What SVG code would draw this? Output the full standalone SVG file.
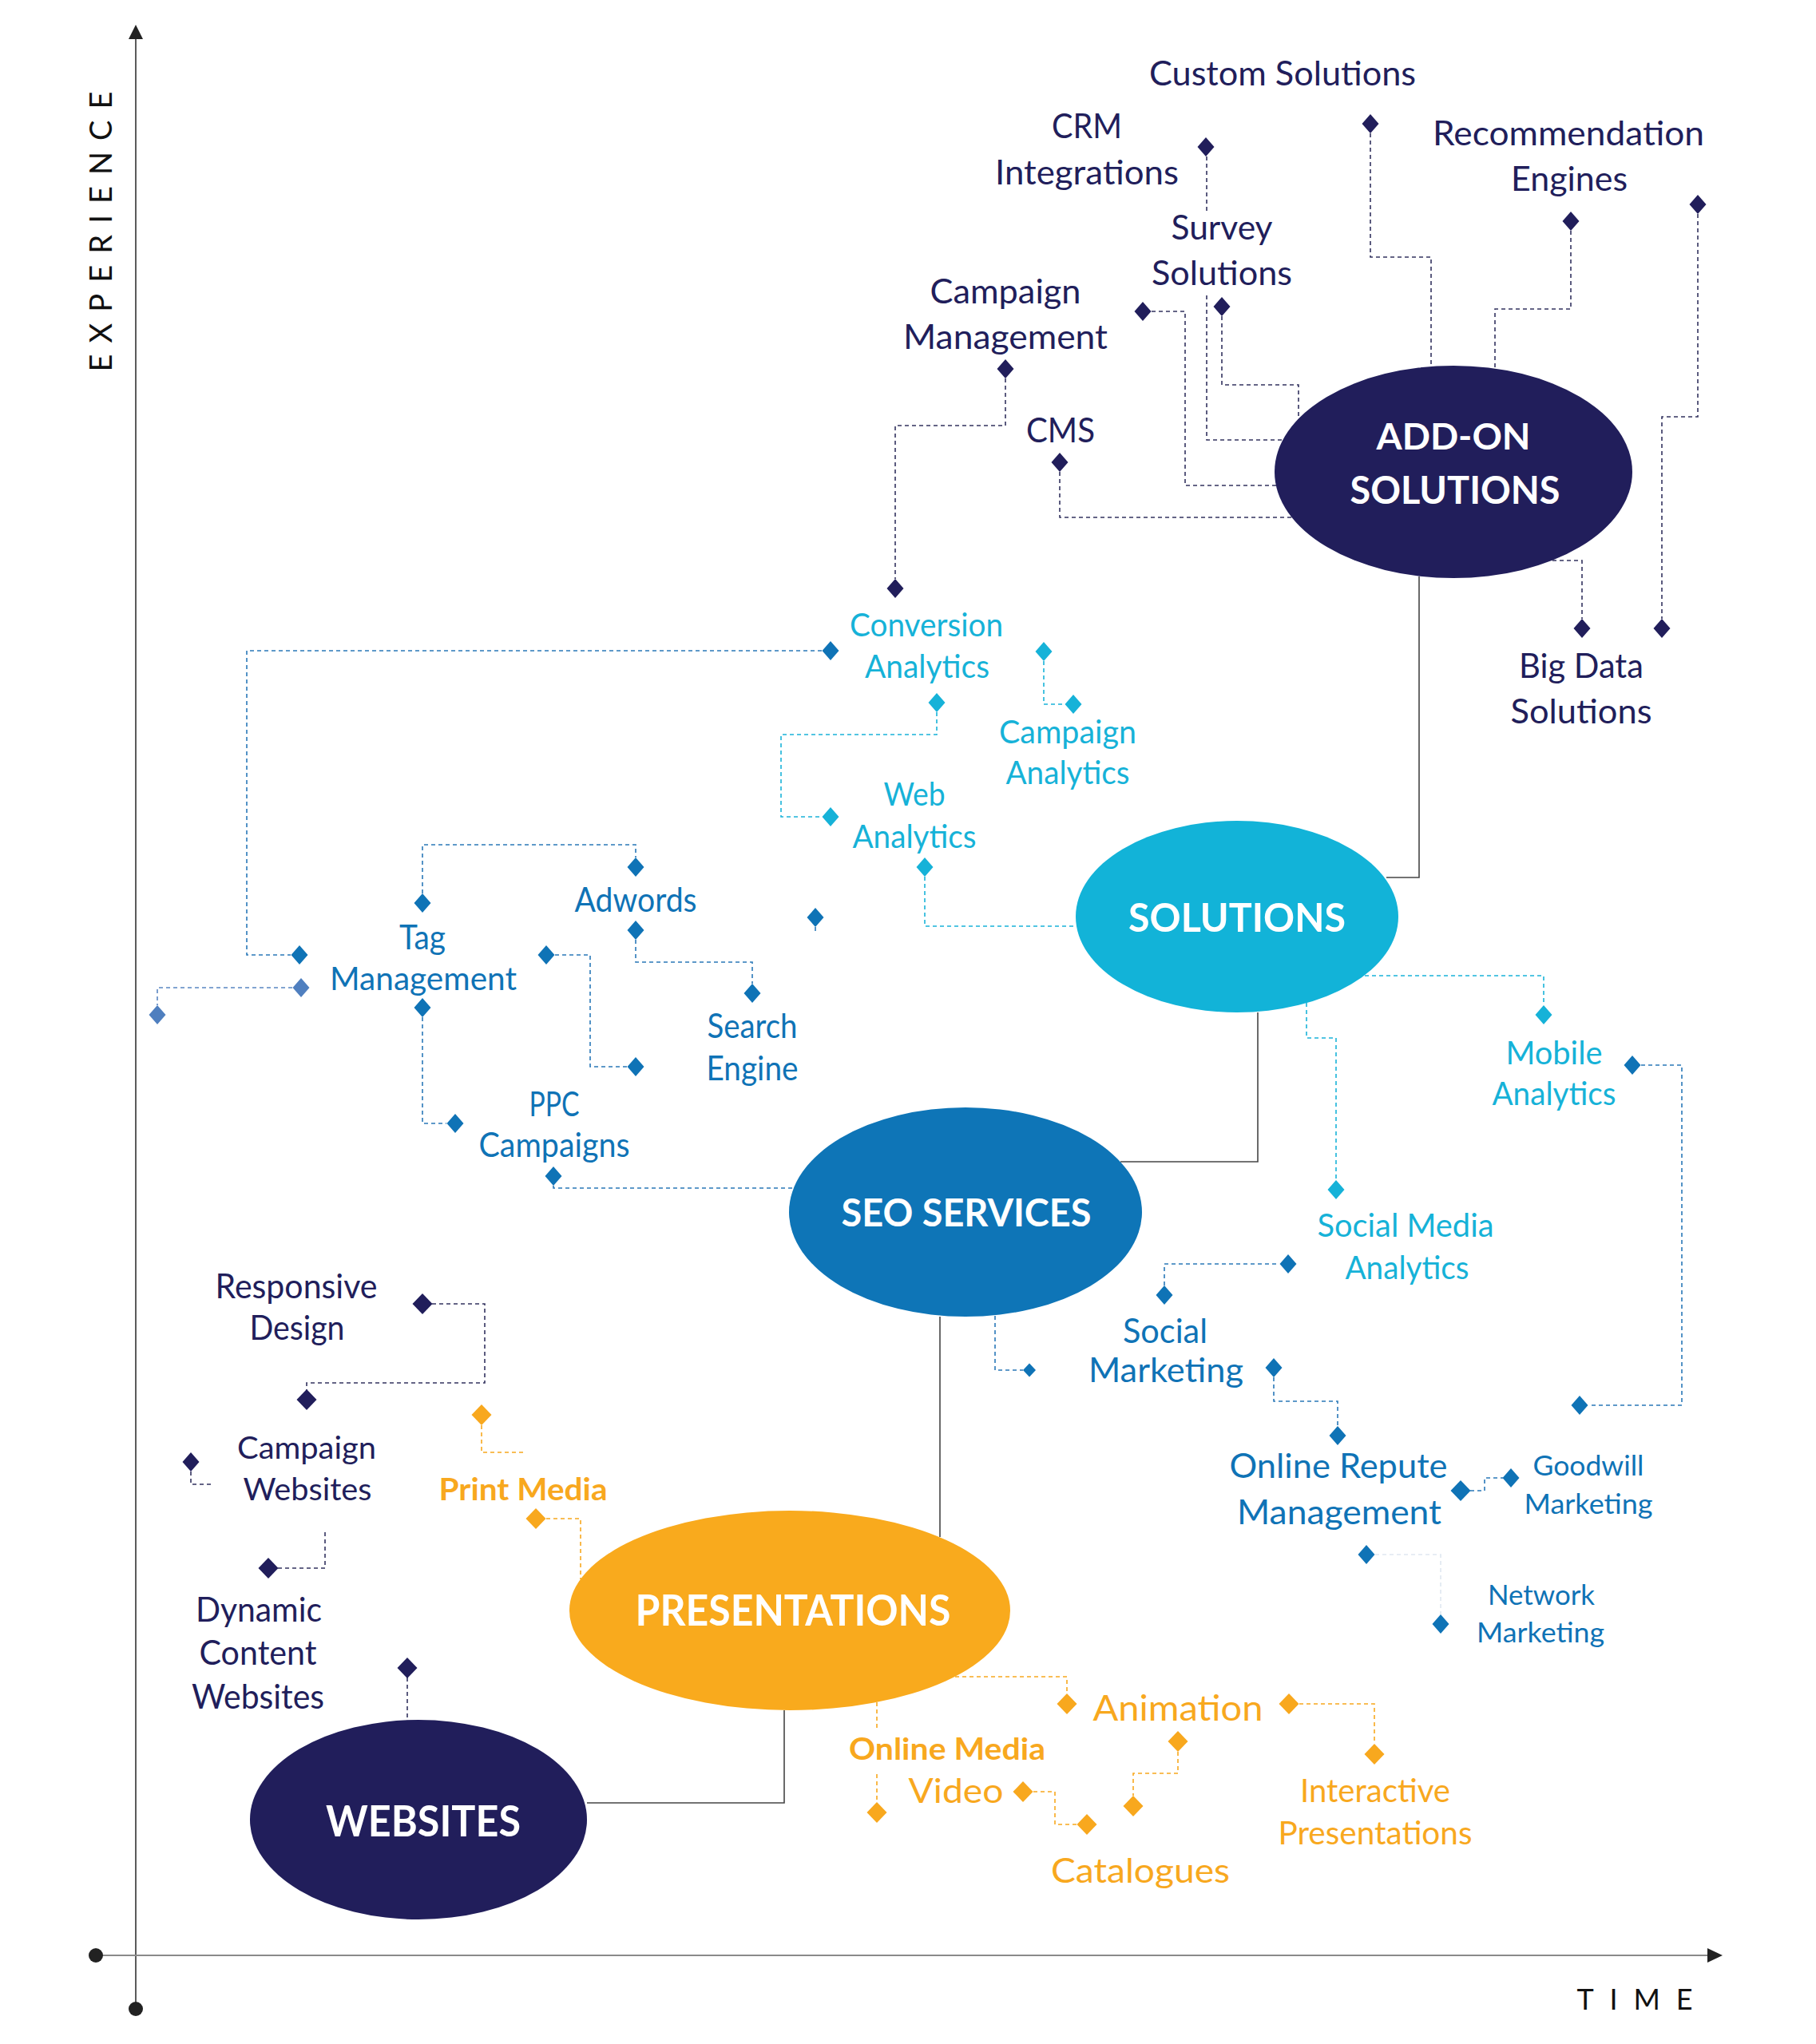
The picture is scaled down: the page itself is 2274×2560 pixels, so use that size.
<svg xmlns="http://www.w3.org/2000/svg" xmlns:xlink="http://www.w3.org/1999/xlink" width="2274" height="2560" viewBox="0 0 2274 2560">
<style>
text{font-family:Lato,"Open Sans","Liberation Sans",sans-serif;text-anchor:middle}
.l{font-size:42px}
.m{font-size:40px}
.s{font-size:35px}
.navy{fill:#211e5b}
.cyan{fill:#16b2d8}
.blue{fill:#0f73b6}
.gb{fill:#4f7fbf}
.org{fill:#f8a81e}
.w{fill:#ffffff;font-weight:bold}
.b{font-weight:bold}
.ax{fill:#111;font-size:38px}
.cn{fill:none;stroke-width:1.6;stroke-dasharray:5 4}
.cnavy{stroke:#33335f}
.ccyan{stroke:#1ab3d9}
.cblue{stroke:#2a78b8}
.cgb{stroke:#5a86c2}
.corg{stroke:#f8a81e}
.cfaint{stroke:#dfe8f1}
.solid{fill:none;stroke:#454545;stroke-width:1.6}
</style>
<defs>
<path id="dm" d="M0,-12 L10.5,0 L0,12 L-10.5,0Z"/>
<path id="dl" d="M0,-13 L12.5,0 L0,13 L-12.5,0Z"/>
<path id="ds" d="M0,-8.5 L8,0 L0,8.5 L-8,0Z"/>
</defs>
<rect width="2274" height="2560" fill="#ffffff"/>

<g id="axes">
<line x1="170" y1="47" x2="170" y2="2516" stroke="#333" stroke-width="1.6"/>
<polygon points="170,31 179,49 161,49" fill="#222"/>
<line x1="120" y1="2449" x2="2140" y2="2449" stroke="#8a8a8a" stroke-width="2"/>
<polygon points="2157,2449 2138,2440 2138,2458" fill="#222"/>
<circle cx="120" cy="2449" r="9" fill="#222"/>
<circle cx="170" cy="2516" r="9" fill="#222"/>
<text class="ax" transform="translate(140,290) rotate(-90)" textLength="351">EXPERIENCE</text>
<text class="ax" x="2047" y="2517" textLength="145" style="font-size:36px">TIME</text>
</g>

<g id="connectors">
<path class="cn cnavy" d="M1511,196 V266 M1511,370 V551 H1607"/>
<path class="cn cnavy" d="M1530,396 V482 H1626 V526"/>
<path class="cn cnavy" d="M1442,390 H1484 V608 H1598"/>
<path class="cn cnavy" d="M1327,591 V648 H1618"/>
<path class="cn cnavy" d="M1716,167 V322 H1792 V459"/>
<path class="cn cnavy" d="M1967,289 V387 H1872 V462"/>
<path class="cn cnavy" d="M2126,268 V522 H2081 V775"/>
<path class="cn cnavy" d="M1944,702 H1981 V775"/>
<path class="cn cnavy" d="M1259,474 V533 H1121 V725"/>
<path class="cn cnavy" d="M541,1633 H607 V1732 H384 V1741"/>
<path class="cn cnavy" d="M239,1843 V1859 H268"/>
<path class="cn cnavy" d="M348,1964 H407 V1915"/>
<path class="cn cnavy" d="M510,2101 V2154"/>

<path class="cn ccyan" d="M1307,828 V882 H1333"/>
<path class="cn ccyan" d="M1173,892 V920 H978 V1023 H1029"/>
<path class="cn ccyan" d="M1158,1098 V1160 H1348"/>
<path class="cn ccyan" d="M1709,1222 H1933 V1259"/>
<path class="cn ccyan" d="M1636,1256 V1300 H1673 V1478"/>

<path class="cn cblue" d="M1029,815 H309 V1196 H364"/>
<path class="cn cblue" d="M529,1119 V1058 H796 V1074"/>
<path class="cn cblue" d="M796,1177 V1205 H942 V1232"/>
<path class="cn cblue" d="M695,1196 H739 V1336 H785"/>
<path class="cn cblue" d="M529,1274 V1407 H559"/>
<path class="cn cblue" d="M693,1485 V1488 H994"/>
<path class="cn cblue" d="M1021,1161 V1169"/>
<path class="cn cblue" d="M1246,1648 V1716 H1281"/>
<path class="cn cblue" d="M1458,1610 V1583 H1602"/>
<path class="cn cblue" d="M1595,1725 V1755 H1675 V1786"/>
<path class="cn cblue" d="M1841,1867 H1859 V1851 H1882"/>
<path class="cn cblue" d="M2055,1334 H2106 V1760 H1989"/>
<path class="cn cfaint" d="M1722,1947 H1804 V2022"/>
<path class="cn cgb" d="M366,1237 H197 V1259"/>

<path class="cn corg" d="M603,1785 V1819 H655"/>
<path class="cn corg" d="M684,1902 H727 V1978"/>
<path class="cn corg" d="M1196,2100 H1336 V2121"/>
<path class="cn corg" d="M1475,2194 V2221 H1419 V2249"/>
<path class="cn corg" d="M1098,2132 V2166 M1098,2222 V2257"/>
<path class="cn corg" d="M1294,2244 H1321 V2285 H1348"/>
<path class="cn corg" d="M1627,2134 H1721 V2184"/>

<path class="solid" d="M735,2258 H982 V2142"/>
<path class="solid" d="M1177,1925 V1649"/>
<path class="solid" d="M1403,1455 H1575 V1268"/>
<path class="solid" d="M1736,1099 H1777 V722"/>
</g>

<g id="add-on-solutions">
<ellipse cx="1820" cy="591" rx="224" ry="133" fill="#211e5b"/>
<text class="w" x="1820" y="563" style="font-size:46px" textLength="193" lengthAdjust="spacingAndGlyphs">ADD-ON</text>
<text class="w" x="1822" y="631" style="font-size:48px" textLength="263" lengthAdjust="spacingAndGlyphs">SOLUTIONS</text>
</g>
<g id="solutions">
<ellipse cx="1549" cy="1148" rx="202" ry="120" fill="#12b3d8"/>
<text class="w" x="1549" y="1167" style="font-size:49px" textLength="272" lengthAdjust="spacingAndGlyphs">SOLUTIONS</text>
</g>
<g id="seo-services">
<ellipse cx="1209" cy="1518" rx="221" ry="131" fill="#0e75b7"/>
<text class="w" x="1210" y="1536" style="font-size:47px" textLength="313" lengthAdjust="spacingAndGlyphs">SEO SERVICES</text>
</g>
<g id="presentations">
<ellipse cx="989" cy="2017" rx="276" ry="125" fill="#f9aa1d"/>
<text class="w" x="993" y="2036" style="font-size:54px" textLength="395" lengthAdjust="spacingAndGlyphs">PRESENTATIONS</text>
</g>
<g id="websites">
<ellipse cx="524" cy="2279" rx="211" ry="125" fill="#211e5b"/>
<text class="w" x="530" y="2300" style="font-size:53px" textLength="244" lengthAdjust="spacingAndGlyphs">WEBSITES</text>
</g>

<g id="custom-solutions">
<text class="l navy" x="1606" y="107" textLength="334" lengthAdjust="spacingAndGlyphs">Custom Solutions</text>
<use href="#dm" x="1716" y="155" class="navy"/>
</g>
<g id="crm-integrations">
<text class="l navy" x="1361" y="173" textLength="88" lengthAdjust="spacingAndGlyphs">CRM</text>
<text class="l navy" x="1361" y="231" textLength="230" lengthAdjust="spacingAndGlyphs">Integrations</text>
<use href="#dm" x="1510" y="184" class="navy"/>
</g>
<g id="survey-solutions">
<text class="l navy" x="1530" y="300" textLength="127" lengthAdjust="spacingAndGlyphs">Survey</text>
<text class="l navy" x="1530" y="357" textLength="176" lengthAdjust="spacingAndGlyphs">Solutions</text>
<use href="#dm" x="1530" y="384" class="navy"/>
</g>
<g id="campaign-management">
<text class="l navy" x="1259" y="380" textLength="189" lengthAdjust="spacingAndGlyphs">Campaign</text>
<text class="l navy" x="1259" y="437" textLength="256" lengthAdjust="spacingAndGlyphs">Management</text>
<use href="#dm" x="1431" y="390" class="navy"/>
<use href="#dm" x="1259" y="462" class="navy"/>
</g>
<g id="cms">
<text class="l navy" x="1328" y="554" textLength="86" lengthAdjust="spacingAndGlyphs">CMS</text>
<use href="#dm" x="1327" y="579" class="navy"/>
</g>
<g id="recommendation-engines">
<text class="l navy" x="1964" y="182" textLength="340" lengthAdjust="spacingAndGlyphs">Recommendation</text>
<text class="l navy" x="1965" y="239" textLength="146" lengthAdjust="spacingAndGlyphs">Engines</text>
<use href="#dm" x="1967" y="277" class="navy"/>
<use href="#dm" x="2126" y="256" class="navy"/>
</g>
<g id="big-data-solutions">
<text class="l navy" x="1980" y="849" textLength="156" lengthAdjust="spacingAndGlyphs">Big Data</text>
<text class="l navy" x="1980" y="906" textLength="177" lengthAdjust="spacingAndGlyphs">Solutions</text>
<use href="#dm" x="1981" y="787" class="navy"/>
<use href="#dm" x="2081" y="787" class="navy"/>
</g>

<g id="conversion-analytics">
<use href="#dm" x="1121" y="737" class="navy"/>
<text class="m cyan" x="1160" y="797" textLength="192" lengthAdjust="spacingAndGlyphs">Conversion</text>
<text class="m cyan" x="1161" y="849" textLength="156" lengthAdjust="spacingAndGlyphs">Analytics</text>
<use href="#dm" x="1040" y="815" class="blue"/>
<use href="#dm" x="1307" y="816" class="cyan"/>
<use href="#dm" x="1173" y="880" class="cyan"/>
</g>
<g id="campaign-analytics">
<use href="#dm" x="1344" y="882" class="cyan"/>
<text class="m cyan" x="1337" y="931" textLength="172" lengthAdjust="spacingAndGlyphs">Campaign</text>
<text class="m cyan" x="1337" y="982" textLength="155" lengthAdjust="spacingAndGlyphs">Analytics</text>
</g>
<g id="web-analytics">
<use href="#dm" x="1040" y="1023" class="cyan"/>
<text class="m cyan" x="1145" y="1009" textLength="77" lengthAdjust="spacingAndGlyphs">Web</text>
<text class="m cyan" x="1145" y="1062" textLength="155" lengthAdjust="spacingAndGlyphs">Analytics</text>
<use href="#dm" x="1158" y="1086" class="cyan"/>
</g>
<g id="mobile-analytics">
<use href="#dm" x="1933" y="1271" class="cyan"/>
<text class="m cyan" x="1946" y="1333" textLength="121" lengthAdjust="spacingAndGlyphs">Mobile</text>
<text class="m cyan" x="1946" y="1384" textLength="155" lengthAdjust="spacingAndGlyphs">Analytics</text>
<use href="#dm" x="2044" y="1334" class="blue"/>
</g>
<g id="social-media-analytics">
<use href="#dm" x="1673" y="1490" class="cyan"/>
<text class="m cyan" x="1760" y="1549" textLength="221" lengthAdjust="spacingAndGlyphs">Social Media</text>
<text class="m cyan" x="1762" y="1602" textLength="155" lengthAdjust="spacingAndGlyphs">Analytics</text>
<use href="#dm" x="1613" y="1583" class="blue"/>
</g>

<g id="tag-management">
<use href="#dm" x="529" y="1131" class="blue"/>
<text class="l blue" x="529" y="1189" textLength="58" lengthAdjust="spacingAndGlyphs">Tag</text>
<text class="m blue" x="530" y="1240" textLength="234" lengthAdjust="spacingAndGlyphs">Management</text>
<use href="#dm" x="375" y="1196" class="blue"/>
<use href="#dm" x="377" y="1237" class="gb"/>
<use href="#dm" x="197" y="1271" class="gb"/>
<use href="#dm" x="684" y="1196" class="blue"/>
<use href="#dm" x="529" y="1262" class="blue"/>
</g>
<g id="adwords">
<use href="#dm" x="796" y="1086" class="blue"/>
<text class="l blue" x="796" y="1142" textLength="153" lengthAdjust="spacingAndGlyphs">Adwords</text>
<use href="#dm" x="796" y="1165" class="blue"/>
<use href="#dm" x="1021" y="1149" class="blue"/>
</g>
<g id="search-engine">
<use href="#dm" x="942" y="1244" class="blue"/>
<text class="l blue" x="942" y="1300" textLength="113" lengthAdjust="spacingAndGlyphs">Search</text>
<text class="l blue" x="942" y="1353" textLength="115" lengthAdjust="spacingAndGlyphs">Engine</text>
<use href="#dm" x="796" y="1336" class="blue"/>
</g>
<g id="ppc-campaigns">
<use href="#dm" x="570" y="1407" class="blue"/>
<text class="l blue" x="694" y="1398" textLength="63" lengthAdjust="spacingAndGlyphs">PPC</text>
<text class="l blue" x="694" y="1449" textLength="189" lengthAdjust="spacingAndGlyphs">Campaigns</text>
<use href="#dm" x="693" y="1473" class="blue"/>
</g>
<g id="social-marketing">
<use href="#ds" x="1289" y="1716" class="blue"/>
<use href="#dm" x="1458" y="1622" class="blue"/>
<text class="l blue" x="1459" y="1682" textLength="106" lengthAdjust="spacingAndGlyphs">Social</text>
<text class="l blue" x="1460" y="1731" textLength="194" lengthAdjust="spacingAndGlyphs">Marketing</text>
<use href="#dm" x="1595" y="1713" class="blue"/>
</g>
<g id="online-repute-management">
<use href="#dm" x="1675" y="1798" class="blue"/>
<text class="l blue" x="1676" y="1851" textLength="273" lengthAdjust="spacingAndGlyphs">Online Repute</text>
<text class="l blue" x="1677" y="1909" textLength="256" lengthAdjust="spacingAndGlyphs">Management</text>
<use href="#dl" x="1829" y="1867" class="blue"/>
<use href="#dm" x="1711" y="1947" class="blue"/>
</g>
<g id="goodwill-marketing">
<use href="#dm" x="1892" y="1851" class="blue"/>
<text class="s blue" x="1989" y="1848" textLength="139" lengthAdjust="spacingAndGlyphs">Goodwill</text>
<text class="s blue" x="1989" y="1896" textLength="161" lengthAdjust="spacingAndGlyphs">Marketing</text>
<use href="#dm" x="1978" y="1760" class="blue"/>
</g>
<g id="network-marketing">
<text class="s blue" x="1930" y="2010" textLength="134" lengthAdjust="spacingAndGlyphs">Network</text>
<text class="s blue" x="1929" y="2057" textLength="160" lengthAdjust="spacingAndGlyphs">Marketing</text>
<use href="#dm" x="1804" y="2034" class="blue"/>
</g>

<g id="responsive-design">
<text class="l navy" x="371" y="1626" textLength="203" lengthAdjust="spacingAndGlyphs">Responsive</text>
<text class="l navy" x="372" y="1678" textLength="119" lengthAdjust="spacingAndGlyphs">Design</text>
<use href="#dl" x="529" y="1633" class="navy"/>
</g>
<g id="campaign-websites">
<use href="#dl" x="384" y="1753" class="navy"/>
<use href="#dm" x="239" y="1831" class="navy"/>
<text class="navy" style="font-size:39px" x="384" y="1827" textLength="174" lengthAdjust="spacingAndGlyphs">Campaign</text>
<text class="navy" style="font-size:39px" x="385" y="1879" textLength="161" lengthAdjust="spacingAndGlyphs">Websites</text>
</g>
<g id="dynamic-content-websites">
<use href="#dl" x="336" y="1964" class="navy"/>
<text class="l navy" x="324" y="2031" textLength="158" lengthAdjust="spacingAndGlyphs">Dynamic</text>
<text class="l navy" x="323" y="2085" textLength="147" lengthAdjust="spacingAndGlyphs">Content</text>
<text class="l navy" x="323" y="2140" textLength="166" lengthAdjust="spacingAndGlyphs">Websites</text>
<use href="#dl" x="510" y="2089" class="navy"/>
</g>

<g id="print-media">
<use href="#dl" x="603" y="1772" class="org"/>
<text class="org b" style="font-size:39px" x="655" y="1879" textLength="211" lengthAdjust="spacingAndGlyphs">Print Media</text>
<use href="#dl" x="671" y="1902" class="org"/>
</g>
<g id="animation">
<use href="#dl" x="1336" y="2134" class="org"/>
<text class="org" style="font-size:44px" x="1475" y="2155" textLength="213" lengthAdjust="spacingAndGlyphs">Animation</text>
<use href="#dl" x="1475" y="2181" class="org"/>
<use href="#dl" x="1614" y="2134" class="org"/>
<use href="#dl" x="1419" y="2262" class="org"/>
</g>
<g id="online-media-video">
<text class="org b" style="font-size:38px" x="1186" y="2204" textLength="246" lengthAdjust="spacingAndGlyphs">Online Media</text>
<text class="org" style="font-size:43px" x="1197" y="2258" textLength="119" lengthAdjust="spacingAndGlyphs">Video</text>
<use href="#dl" x="1098" y="2270" class="org"/>
<use href="#dl" x="1281" y="2244" class="org"/>
</g>
<g id="catalogues">
<use href="#dl" x="1361" y="2285" class="org"/>
<text class="org" style="font-size:43px" x="1428" y="2358" textLength="224" lengthAdjust="spacingAndGlyphs">Catalogues</text>
</g>
<g id="interactive-presentations">
<use href="#dl" x="1721" y="2197" class="org"/>
<text class="m org" x="1722" y="2257" textLength="188" lengthAdjust="spacingAndGlyphs">Interactive</text>
<text class="m org" x="1722" y="2310" textLength="243" lengthAdjust="spacingAndGlyphs">Presentations</text>
</g>
</svg>
